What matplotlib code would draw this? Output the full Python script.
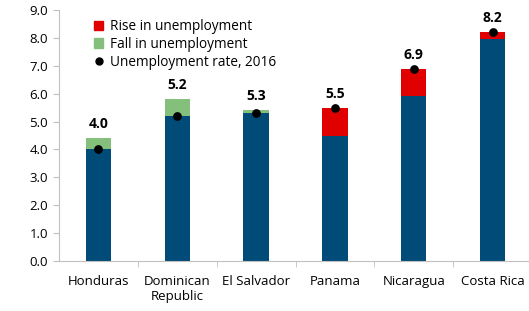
import numpy as np
import matplotlib
matplotlib.use("Agg")
from matplotlib import pyplot as plt
from matplotlib.patches import Patch
from matplotlib.lines import Line2D

plt.rcParams['font.family'] = ['Open Sans', 'DejaVu Sans']

countries = ["Honduras", "Dominican\nRepublic", "El Salvador", "Panama", "Nicaragua", "Costa Rica"]
rate_2015 = [4.4, 5.8, 5.4, 4.5, 5.9, 7.95]
rate_2016 = [4.0, 5.2, 5.3, 5.5, 6.9, 8.2]
labels_2016 = ["4.0", "5.2", "5.3", "5.5", "6.9", "8.2"]

blue = "#004b78"
red = "#e00000"
green = "#84c07b"
grey = "#c0c0c0"

r15 = np.array(rate_2015)
r16 = np.array(rate_2016)
base = np.minimum(r15, r16)
top = np.maximum(r15, r16)
rise = np.clip(r16 - r15, 0, None)
fall = np.clip(r15 - r16, 0, None)

fig = plt.figure(figsize=(5.29, 3.11), dpi=100)
ax = fig.add_axes([59/529, 50/311, 473/529, 251/311])

x = np.arange(len(countries))
w = 0.32
ax.bar(x, base, w, color=blue, zorder=2)
ax.bar(x, rise, w, bottom=base, color=red, zorder=2)
ax.bar(x, fall, w, bottom=base, color=green, zorder=2)
ax.scatter(x, r16, s=28, color="black", zorder=3)
for xi, yi, t in zip(x, top, labels_2016):
    ax.annotate(t, (xi, yi), xytext=(0, 5), textcoords="offset points",
                ha="center", va="bottom", fontsize=10, fontweight="bold")

ax.set_xlim(-0.5, len(countries) - 0.5)
ax.set_ylim(0, 9)
ax.set_yticks(np.arange(0, 9.1, 1))
ax.set_yticklabels([f"{v:.1f}" for v in np.arange(0, 9.1, 1)], fontsize=9.5)
ax.set_xticks(x)
ax.set_xticklabels(countries, fontsize=9.5)
ax.set_xticks(np.arange(0.5, len(countries) - 0.5, 1), minor=True)
ax.tick_params(axis="x", which="major", length=0, pad=10)
ax.tick_params(axis="x", which="minor", length=4, color=grey)
ax.tick_params(axis="y", length=4, color=grey, pad=4)
for s in ["top", "right"]:
    ax.spines[s].set_visible(False)
for s in ["left", "bottom"]:
    ax.spines[s].set_color(grey)

handles = [Patch(color=red, label="Rise in unemployment"),
           Patch(color=green, label="Fall in unemployment"),
           Line2D([], [], marker="o", color="black", linestyle="none", markersize=5,
                  label="Unemployment rate, 2016")]
ax.legend(handles=handles, loc="upper left", bbox_to_anchor=(0.062, 0.985), frameon=False,
          fontsize=9.8, handlelength=0.7, handleheight=0.7, handletextpad=0.5,
          labelspacing=0.2, borderaxespad=0)

fig.savefig("out.png", dpi=100)
